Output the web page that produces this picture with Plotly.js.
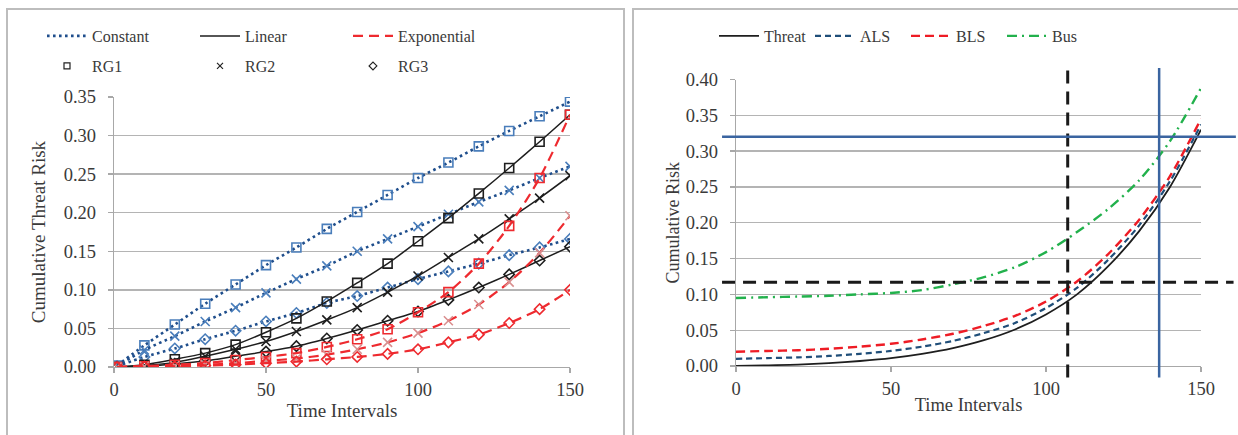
<!DOCTYPE html>
<html><head><meta charset="utf-8">
<script src="https://cdn.plot.ly/plotly-3.0.1.min.js"></script>
<style>html,body{margin:0;padding:0;background:#fff}#chart{width:1238px;height:435px}</style>
</head><body><div id="chart"></div>
<script>
// ---------- Left chart data ----------
const timeL = [1, 10, 20, 30, 40, 50, 60, 70, 80, 90, 100, 110, 120, 130, 140, 150];
const constRG1 = [0.002, 0.028, 0.055, 0.082, 0.107, 0.132, 0.155, 0.179, 0.201, 0.223, 0.245, 0.265, 0.286, 0.306, 0.325, 0.344];
const constRG2 = [0.001, 0.022, 0.040, 0.059, 0.077, 0.096, 0.114, 0.131, 0.150, 0.166, 0.182, 0.198, 0.214, 0.229, 0.245, 0.260];
const constRG3 = [0.001, 0.013, 0.024, 0.036, 0.047, 0.059, 0.070, 0.083, 0.092, 0.103, 0.114, 0.124, 0.134, 0.145, 0.155, 0.166];
const linRG1 = [0.000, 0.003, 0.010, 0.018, 0.029, 0.045, 0.063, 0.085, 0.109, 0.134, 0.163, 0.193, 0.225, 0.258, 0.292, 0.327];
const linRG2 = [0.000, 0.002, 0.006, 0.014, 0.023, 0.033, 0.046, 0.061, 0.077, 0.097, 0.118, 0.142, 0.166, 0.192, 0.219, 0.248];
const linRG3 = [0.000, 0.001, 0.004, 0.008, 0.014, 0.020, 0.027, 0.037, 0.048, 0.060, 0.072, 0.087, 0.103, 0.120, 0.138, 0.156];
const expRG1 = [0.000, 0.001, 0.003, 0.005, 0.009, 0.013, 0.018, 0.026, 0.036, 0.049, 0.071, 0.097, 0.134, 0.183, 0.245, 0.327];
const expRG2 = [0.000, 0.001, 0.002, 0.003, 0.005, 0.008, 0.011, 0.016, 0.023, 0.032, 0.044, 0.060, 0.081, 0.110, 0.148, 0.196];
const expRG3 = [0.000, 0.0005, 0.001, 0.002, 0.003, 0.005, 0.007, 0.010, 0.013, 0.017, 0.023, 0.032, 0.042, 0.057, 0.075, 0.100];
const modelNames = ['Constant', 'Linear', 'Exponential'];
const groupNames = ['RG1', 'RG2', 'RG3'];

// ---------- Right chart data ----------
const timeR = [0, 10, 20, 30, 40, 50, 60, 70, 80, 90, 100, 110, 120, 130, 140, 150];
const threat = [0.000, 0.001, 0.002, 0.004, 0.007, 0.011, 0.017, 0.025, 0.036, 0.051, 0.072, 0.100, 0.139, 0.188, 0.250, 0.330];
const als = [0.010, 0.011, 0.012, 0.014, 0.017, 0.021, 0.027, 0.035, 0.046, 0.060, 0.081, 0.109, 0.148, 0.196, 0.258, 0.337];
const bls = [0.020, 0.021, 0.022, 0.024, 0.027, 0.031, 0.037, 0.045, 0.056, 0.070, 0.090, 0.118, 0.156, 0.204, 0.265, 0.345];
const bus = [0.095, 0.096, 0.097, 0.098, 0.100, 0.102, 0.106, 0.114, 0.124, 0.138, 0.159, 0.187, 0.219, 0.259, 0.314, 0.388];
const rightNames = ['Threat', 'ALS', 'BLS', 'Bus'];
const refX = [107, 136.5];   // vertical reference lines (black dashed, blue solid)
const refY = [0.117, 0.32];  // horizontal reference lines (black dashed, blue solid)

// ---------- styles ----------
const FONT = 'Liberation Serif, Times New Roman, serif';
const TXT = '#3a3a3a';
const W = 1238, H = 435;
const px = v => v / W, py = v => 1 - v / H;

const cBlueLine = '#1f4e8c', cBlueMk = '#4a7ebb';
const cBlack = '#1e1e1e';
const cRed = '#ee2a2f', cSalmon = '#d98f8f';
const symbols = ['square-open', 'x-thin-open', 'diamond-open'];
const mkSize = [9, 9, 8];

const leftSeries = [
  {y: constRG1, m: 0, g: 0}, {y: constRG2, m: 0, g: 1}, {y: constRG3, m: 0, g: 2},
  {y: linRG1, m: 1, g: 0}, {y: linRG2, m: 1, g: 1}, {y: linRG3, m: 1, g: 2},
  {y: expRG1, m: 2, g: 0}, {y: expRG2, m: 2, g: 1}, {y: expRG3, m: 2, g: 2}
];
const lineStyles = [
  {color: cBlueLine, width: 2.6, dash: '2.6px,3.4px'},
  {color: cBlack, width: 1.5, dash: 'solid'},
  {color: cRed, width: 2.2, dash: '10px,6px'}
];
function markerColor(m, g) {
  if (m === 0) return cBlueMk;
  if (m === 1) return cBlack;
  return g === 1 ? cSalmon : cRed;
}

const traces = [];
leftSeries.forEach(s => {
  traces.push({
    x: timeL, y: s.y, xaxis: 'x', yaxis: 'y', type: 'scatter', mode: 'lines+markers',
    name: modelNames[s.m] + ' ' + groupNames[s.g], showlegend: false,
    line: Object.assign({shape: 'spline', smoothing: 0.8}, lineStyles[s.m]),
    marker: {symbol: symbols[s.g], size: mkSize[s.g], color: markerColor(s.m, s.g),
             line: {color: markerColor(s.m, s.g), width: 1.6}},
    hoverinfo: 'x+y'
  });
});
// legend-only entries (left)
modelNames.forEach((n, i) => {
  traces.push({x: [null], y: [null], xaxis: 'x', yaxis: 'y', type: 'scatter', mode: 'lines',
    name: n, legend: 'legend', line: lineStyles[i]});
});
groupNames.forEach((n, i) => {
  traces.push({x: [null], y: [null], xaxis: 'x', yaxis: 'y', type: 'scatter', mode: 'markers',
    name: n, legend: 'legend3',
    marker: {symbol: symbols[i], size: 6, color: '#222', line: {color: '#222', width: 1.2}}});
});

// right chart
const rightStyles = [
  {color: cBlack, width: 1.8, dash: 'solid'},
  {color: '#1f4e79', width: 2.2, dash: '6px,4px'},
  {color: '#ee1c25', width: 2.4, dash: '9px,5px'},
  {color: '#22b14c', width: 2.4, dash: '10px,5px,2px,5px'}
];
[threat, als, bls, bus].forEach((ys, i) => {
  traces.push({x: timeR, y: ys, xaxis: 'x2', yaxis: 'y2', type: 'scatter', mode: 'lines',
    name: rightNames[i], legend: 'legend2',
    line: Object.assign({shape: 'spline', smoothing: 0.8}, rightStyles[i])});
});

const axFont = {family: FONT, size: 18.5, color: TXT};
const titleFont = {family: FONT, size: 19, color: TXT};
const legFont = {family: FONT, size: 16, color: TXT};
const gridC = '#b4b4b4', lineC = '#a8a8a8';

function xAxis(dom, anchor, standoff, fsize) {
  return {domain: dom, anchor: anchor, range: [0, 150], tickvals: [0, 50, 100, 150],
    showgrid: false, zeroline: false, showline: true, linecolor: lineC, linewidth: 1.3,
    ticks: 'outside', ticklen: 5, tickcolor: lineC, tickwidth: 1.3, tickfont: axFont,
    title: {text: 'Time Intervals', font: Object.assign({}, titleFont, {size: fsize}), standoff: standoff},
    fixedrange: true};
}
function yAxis(dom, anchor, max, title, standoff, fsize) {
  return {domain: dom, anchor: anchor, range: [0, max], dtick: 0.05, tick0: 0, tickformat: '.2f',
    showgrid: true, gridcolor: gridC, gridwidth: 1.3, zeroline: false, showline: true,
    linecolor: lineC, linewidth: 1.3, ticks: 'outside', ticklen: 5, tickcolor: lineC, tickwidth: 1.3,
    tickfont: axFont, ticklabelstandoff: 8,
    title: {text: title, font: Object.assign({}, titleFont, {size: fsize}), standoff: standoff},
    fixedrange: true};
}

const shapes = [
  // panel frames
  {type: 'rect', xref: 'paper', yref: 'paper', x0: px(7), x1: px(624), y0: -0.05, y1: py(9),
   line: {color: '#bdbdbd', width: 2}, layer: 'below'},
  {type: 'rect', xref: 'paper', yref: 'paper', x0: px(633), x1: 1.05, y0: -0.05, y1: py(9),
   line: {color: '#bdbdbd', width: 2}, layer: 'below'},
  // reference lines, right chart
  {type: 'line', xref: 'x2', yref: 'y2 domain', x0: refX[0], x1: refX[0], y0: -0.04, y1: 1.055,
   line: {color: '#1a1a1a', width: 3, dash: '13px,8px'}, layer: 'above'},
  {type: 'line', xref: 'x2', yref: 'y2 domain', x0: refX[1], x1: refX[1], y0: -0.04, y1: 1.04,
   line: {color: '#3a64a0', width: 2.5}, layer: 'above'},
  {type: 'line', xref: 'x2 domain', yref: 'y2', x0: -0.03, x1: 1.07, y0: refY[0], y1: refY[0],
   line: {color: '#1a1a1a', width: 3, dash: '13px,8px'}, layer: 'above'},
  {type: 'line', xref: 'x2 domain', yref: 'y2', x0: -0.03, x1: 1.075, y0: refY[1], y1: refY[1],
   line: {color: '#3a64a0', width: 2.5}, layer: 'above'}
];

const legBase = {orientation: 'h', xanchor: 'left', yanchor: 'middle', font: legFont,
  bgcolor: 'rgba(0,0,0,0)', borderwidth: 0, itemwidth: 40, itemclick: false, itemdoubleclick: false,
  entrywidthmode: 'pixels'};

const layout = {
  width: W, height: H, margin: {l: 0, r: 0, t: 0, b: 0},
  paper_bgcolor: '#fff', plot_bgcolor: 'rgba(0,0,0,0)',
  showlegend: true,
  xaxis: xAxis([px(114), px(570)], 'y', 5, 19),
  yaxis: yAxis([1 - 367 / H, 1 - 97 / H], 'x', 0.35, 'Cumulative Threat Risk', 13, 19),
  xaxis2: xAxis([px(736), px(1201)], 'y2', 0, 18.5),
  yaxis2: yAxis([1 - 366 / H, 1 - 79.5 / H], 'x2', 0.40, 'Cumulative Risk', 1, 18),
  legend: Object.assign({}, legBase, {x: px(42), y: py(36), entrywidth: 98}),
  legend3: Object.assign({}, legBase, {x: px(42), y: py(66), entrywidth: 98}),
  legend2: Object.assign({}, legBase, {x: px(714), y: py(36), entrywidth: 41}),
  shapes: shapes,
  hovermode: false
};

Plotly.newPlot('chart', traces, layout, {displayModeBar: false, staticPlot: true});
</script></body></html>
